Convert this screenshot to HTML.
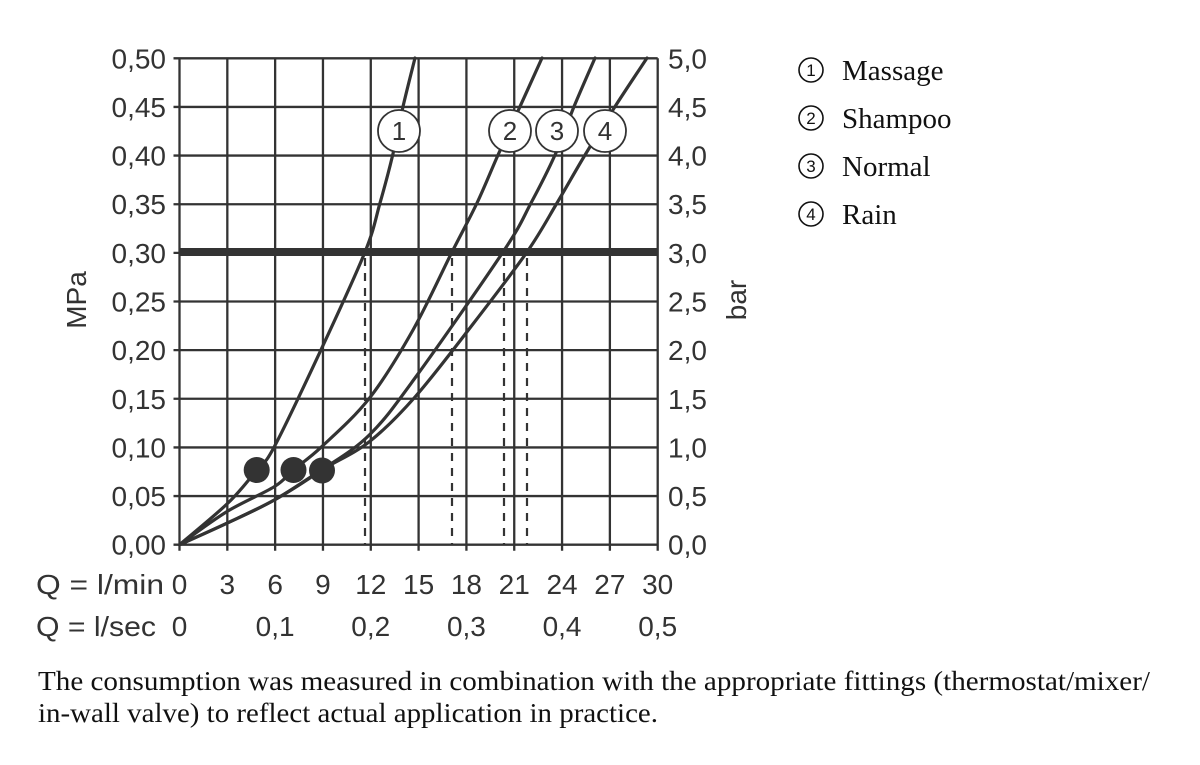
<!DOCTYPE html>
<html><head><meta charset="utf-8"><style>
html,body{margin:0;padding:0;background:#fff;width:1200px;height:765px;overflow:hidden}
svg{display:block}
.s{font-family:"Liberation Sans","DejaVu Sans",sans-serif;font-size:28px;fill:#333}
.r{font-family:"Liberation Serif",serif;fill:#111}
</style></head><body>
<svg id="c" width="1200" height="765" viewBox="0 0 1200 765" xmlns="http://www.w3.org/2000/svg">
<g id="grid" stroke="#333" stroke-width="2.3" fill="none"></g>
<g fill="none" stroke="#333" stroke-linecap="round" stroke-linejoin="round">
 <g id="curves" stroke-width="3.2"></g>
 <g stroke-width="2.2" stroke-dasharray="8,7" stroke-linecap="butt">
  <line x1="365" y1="258" x2="365" y2="544"/>
  <line x1="452" y1="258" x2="452" y2="544"/>
  <line x1="504" y1="258" x2="504" y2="544"/>
  <line x1="527" y1="258" x2="527" y2="544"/>
 </g>
 <line x1="179" y1="252" x2="658" y2="252" stroke-width="8" stroke-linecap="butt"/>
 <g fill="#333" stroke="none">
  <circle cx="256.7" cy="470" r="13"/><circle cx="293.5" cy="470" r="13"/><circle cx="322" cy="470.5" r="13"/>
 </g>
 <g fill="#fff" stroke-width="1.8">
  <circle cx="399" cy="131" r="21"/><circle cx="510" cy="131" r="21"/><circle cx="557" cy="131" r="21"/><circle cx="605" cy="131" r="21"/>
 </g>
 <g fill="#333" stroke="none" font-family="Liberation Sans, DejaVu Sans, sans-serif" font-size="26" text-anchor="middle">
  <text x="399" y="140">1</text><text x="510" y="140">2</text><text x="557" y="140">3</text><text x="605" y="140">4</text>
 </g>
 <g stroke="#111" stroke-width="1.6">
  <circle cx="811" cy="70" r="12"/><circle cx="811" cy="118" r="12"/><circle cx="811" cy="166" r="12"/><circle cx="811" cy="214" r="12"/>
 </g>
 <g fill="#111" stroke="none" font-family="Liberation Sans, sans-serif" font-size="17" text-anchor="middle">
  <text x="811" y="76">1</text><text x="811" y="124">2</text><text x="811" y="172">3</text><text x="811" y="220">4</text>
 </g>
</g>
<g id="labels" class="s"></g>
<text class="s" transform="translate(86,300) rotate(-90)" text-anchor="middle" font-size="30">MPa</text>
<text class="s" transform="translate(746,300) rotate(-90)" text-anchor="middle" font-size="30">bar</text>
<text class="s" x="36" y="594" textLength="128" lengthAdjust="spacingAndGlyphs">Q = l/min</text>
<text class="s" x="36" y="636" textLength="120" lengthAdjust="spacingAndGlyphs">Q = l/sec</text>
<g class="r" font-size="29">
 <text x="842" y="80">Massage</text>
 <text x="842" y="128">Shampoo</text>
 <text x="842" y="176">Normal</text>
 <text x="842" y="224">Rain</text>
</g>
<g class="r" font-size="27">
 <text x="38" y="690" textLength="1112" lengthAdjust="spacingAndGlyphs">The consumption was measured in combination with the appropriate fittings (thermostat/mixer/</text>
 <text x="38" y="722" textLength="620" lengthAdjust="spacingAndGlyphs">in-wall valve) to reflect actual application in practice.</text>
</g>
</svg>
<script>
const NS="http://www.w3.org/2000/svg";
const L=179.5,R=657.7,T=58.3,B=544.7,dx=(R-L)/10,dy=(B-T)/10;
const g=document.getElementById('grid'),lb=document.getElementById('labels');
function el(p,t,a){const e=document.createElementNS(NS,t);for(const k in a)e.setAttribute(k,a[k]);p.appendChild(e);return e;}
for(let i=0;i<=10;i++){const x=L+i*dx;el(g,'line',{x1:x,y1:T,x2:x,y2:B+6});
 const y=T+i*dy;el(g,'line',{x1:L-6,y1:y,x2:R,y2:y});
 const v=(0.5-i*0.05).toFixed(2).replace('.',',');
 const t=el(lb,'text',{x:166,y:y+10,'text-anchor':'end'});t.textContent=v;
 const t2=el(lb,'text',{x:668,y:y+10});t2.textContent=(5-i*0.5).toFixed(1).replace('.',',');
 const t3=el(lb,'text',{x:x,y:594,'text-anchor':'middle'});t3.textContent=String(i*3);
 if(i%2==0){const t4=el(lb,'text',{x:x,y:636,'text-anchor':'middle'});t4.textContent=i==0?'0':(i*0.05).toFixed(1).replace('.',',');}
}
const curves=[
 [[179.5,544.7],[228,503],[256.7,470],[274.3,446.7],[321.7,348.3],[365,252],[380,203],[392.7,155],[403,106.6],[415,58]],
 [[179.5,544.7],[226.7,511.7],[274.3,486.7],[293.3,470],[321.7,446.7],[369.3,398.3],[413,330],[452,252],[477,203],[498,155],[520,106.6],[542,58]],
 [[179.5,544.7],[226.7,523.3],[274.3,500],[321.7,470],[369.3,435],[415,378],[503,252],[531,203],[555,155],[574,106.6],[595,58]],
 [[179.5,544.7],[226.7,523.3],[274.3,500],[321.7,470],[369.3,441.7],[415,397],[473,324],[527,252],[557,203],[585,155],[615,106.6],[647,58]]
];
const cg=document.getElementById('curves');
for(const p of curves){let d='M'+p[0];
 for(let i=0;i<p.length-1;i++){const p0=p[i-1]||p[i],p1=p[i],p2=p[i+1],p3=p[i+2]||p2;
  const c1=[p1[0]+(p2[0]-p0[0])/6,p1[1]+(p2[1]-p0[1])/6],c2=[p2[0]-(p3[0]-p1[0])/6,p2[1]-(p3[1]-p1[1])/6];
  d+=' C'+c1+' '+c2+' '+p2;}
 el(cg,'path',{d:d});}
</script>
</body></html>
